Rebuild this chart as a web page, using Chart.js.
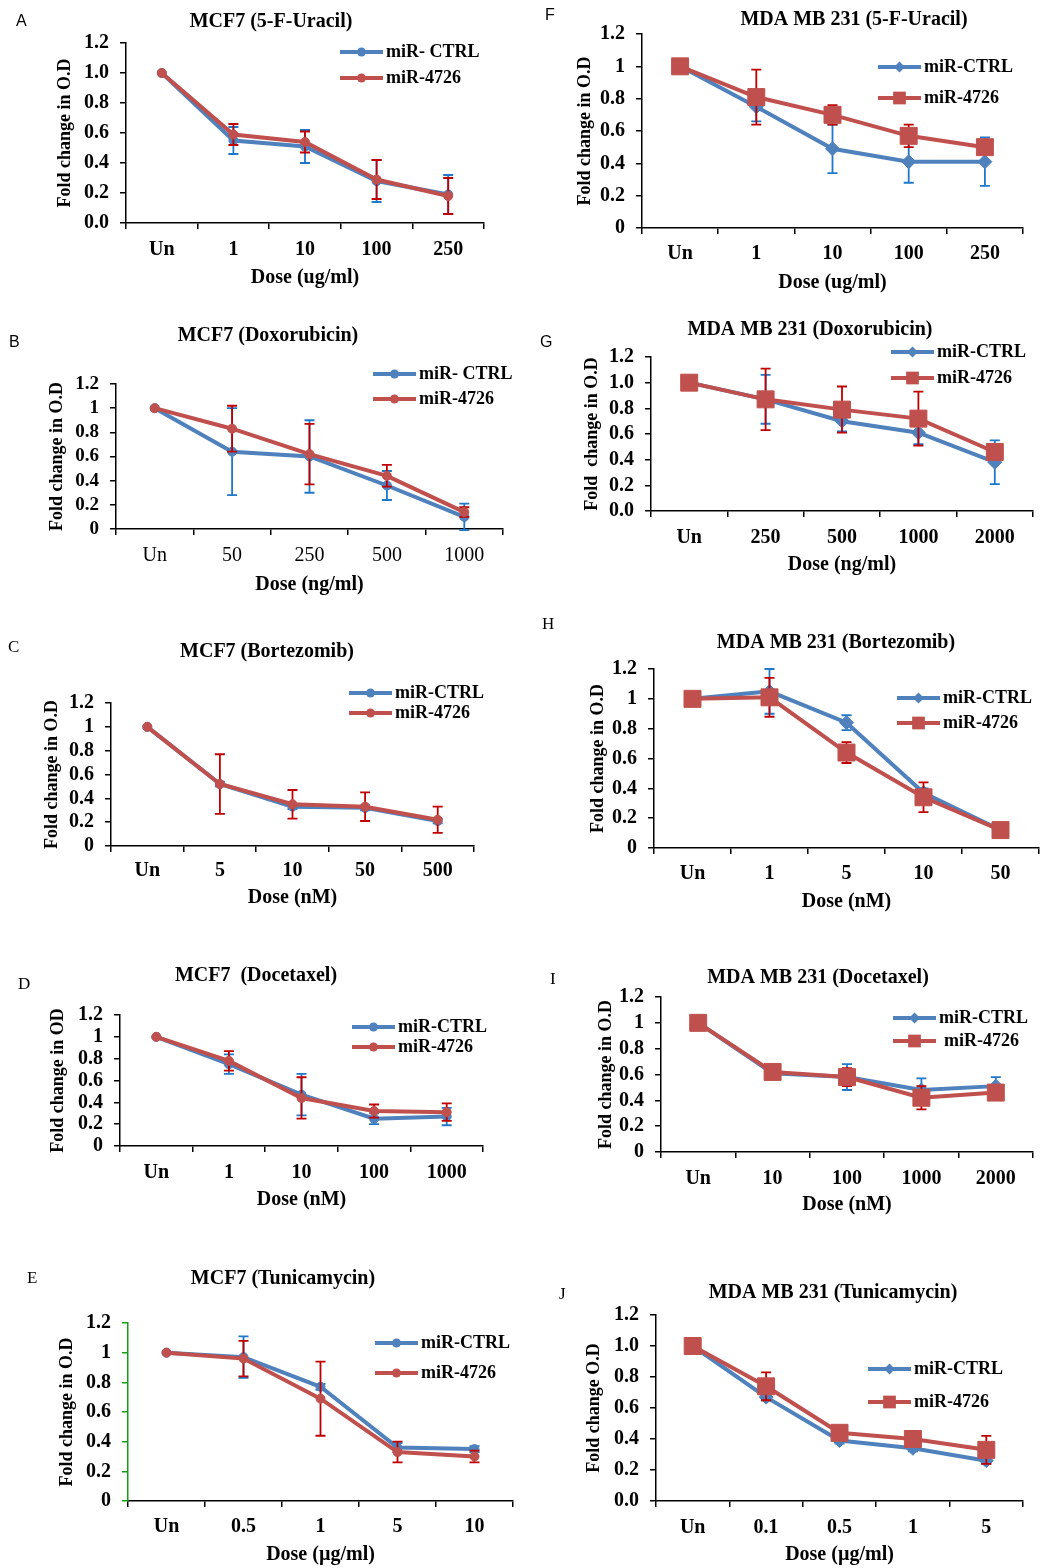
<!DOCTYPE html>
<html>
<head>
<meta charset="utf-8">
<script src="https://cdn.jsdelivr.net/npm/chart.js@4.4.1/dist/chart.umd.min.js"></script>
<style>
  body { margin: 0; background: #fff; width: 1052px; height: 1568px; position: relative; overflow: hidden; }
  canvas { position: absolute; }
</style>
</head>
<body>
<script>
// ---- data ----
// A  MCF7 5-FU
const doseA = ['Un', '1', '10', '100', '250'];
const ctrlA = [1.00, 0.55, 0.51, 0.28, 0.19];
const ctrlErrA = [0, 0.09, 0.11, 0.14, 0.13];
const mirA = [1.00, 0.59, 0.54, 0.29, 0.18];
const mirErrA = [0, 0.07, 0.07, 0.13, 0.12];
// F  MDA 5-FU
const doseF = ['Un', '1', '10', '100', '250'];
const ctrlF = [1.00, 0.75, 0.49, 0.41, 0.41];
const ctrlErrF = [0, 0.09, 0.15, 0.13, 0.15];
const mirF = [1.00, 0.81, 0.70, 0.57, 0.50];
const mirErrF = [0, 0.17, 0.06, 0.07, 0.03];
// B  MCF7 doxorubicin
const doseB = ['Un', '50', '250', '500', '1000'];
const ctrlB = [1.00, 0.64, 0.60, 0.36, 0.10];
const ctrlErrB = [0, 0.36, 0.30, 0.12, 0.11];
const mirB = [1.00, 0.83, 0.62, 0.44, 0.14];
const mirErrB = [0, 0.19, 0.25, 0.09, 0.04];
// G  MDA doxorubicin
const doseG = ['Un', '250', '500', '1000', '2000'];
const ctrlG = [1.00, 0.87, 0.70, 0.61, 0.38];
const ctrlErrG = [0, 0.19, 0.08, 0.09, 0.17];
const mirG = [1.00, 0.87, 0.79, 0.72, 0.46];
const mirErrG = [0, 0.24, 0.18, 0.21, 0.03];
// C  MCF7 bortezomib
const doseC = ['Un', '5', '10', '50', '500'];
const ctrlC = [1.00, 0.52, 0.33, 0.32, 0.21];
const ctrlErrC = [0, 0.02, 0.02, 0.02, 0.02];
const mirC = [1.00, 0.52, 0.35, 0.33, 0.22];
const mirErrC = [0, 0.25, 0.12, 0.12, 0.11];
// H  MDA bortezomib
const doseH = ['Un', '1', '5', '10', '50'];
const ctrlH = [1.00, 1.05, 0.84, 0.37, 0.12];
const ctrlErrH = [0, 0.15, 0.05, 0.03, 0.01];
const mirH = [1.00, 1.01, 0.64, 0.34, 0.12];
const mirErrH = [0, 0.13, 0.07, 0.10, 0.01];
// D  MCF7 docetaxel
const doseD = ['Un', '1', '10', '100', '1000'];
const ctrlD = [1.00, 0.75, 0.47, 0.25, 0.27];
const ctrlErrD = [0, 0.09, 0.19, 0.05, 0.08];
const mirD = [1.00, 0.78, 0.44, 0.32, 0.31];
const mirErrD = [0, 0.09, 0.19, 0.06, 0.08];
// I  MDA docetaxel
const doseI = ['Un', '10', '100', '1000', '2000'];
const ctrlI = [1.00, 0.61, 0.58, 0.48, 0.51];
const ctrlErrI = [0, 0.01, 0.10, 0.09, 0.07];
const mirI = [1.00, 0.62, 0.58, 0.42, 0.46];
const mirErrI = [0, 0.01, 0.07, 0.09, 0.02];
// E  MCF7 tunicamycin
const doseE = ['Un', '0.5', '1', '5', '10'];
const ctrlE = [1.00, 0.97, 0.77, 0.36, 0.35];
const ctrlErrE = [0, 0.14, 0.02, 0.03, 0.02];
const mirE = [1.00, 0.96, 0.69, 0.33, 0.30];
const mirErrE = [0, 0.12, 0.25, 0.07, 0.04];
// J  MDA tunicamycin
const doseJ = ['Un', '0.1', '0.5', '1', '5'];
const ctrlJ = [1.00, 0.67, 0.39, 0.34, 0.26];
const ctrlErrJ = [0, 0.02, 0.02, 0.02, 0.02];
const mirJ = [1.00, 0.74, 0.44, 0.40, 0.33];
const mirErrJ = [0, 0.09, 0.02, 0.02, 0.09];

const yTicks = [0, 0.2, 0.4, 0.6, 0.8, 1.0, 1.2];

const BLUE = '#4F81BD', RED = '#C0504D';
const BLUE_ERR = '#1F78CA', RED_ERR = '#C00000';
const SERIF = '"Liberation Serif", "Times New Roman", serif';

// error bars, drawn just before their own series so markers sit on top
const errorBars = {
  id: 'errorBars',
  beforeDatasetDraw(chart, args) {
    const ds = chart.data.datasets[args.index];
    if (!ds.errors) return;
    const y = chart.scales.y, ctx = chart.ctx;
    ctx.save();
    ctx.strokeStyle = ds.errorColor;
    ctx.lineWidth = 1.8;
    args.meta.data.forEach((pt, i) => {
      const e = ds.errors[i];
      if (!e) return;
      const v = ds.data[i];
      const top = y.getPixelForValue(v + e), bot = y.getPixelForValue(v - e);
      ctx.beginPath();
      ctx.moveTo(pt.x, top); ctx.lineTo(pt.x, bot);
      ctx.moveTo(pt.x - 5, top); ctx.lineTo(pt.x + 5, top);
      ctx.moveTo(pt.x - 5, bot); ctx.lineTo(pt.x + 5, bot);
      ctx.stroke();
    });
    ctx.restore();
  }
};

function marker(ctx, style, r, x, y) {
  ctx.beginPath();
  if (style === 'rect') {
    const s = r * Math.SQRT1_2;
    ctx.rect(x - s, y - s, 2 * s, 2 * s);
  } else if (style === 'rectRot') {
    ctx.moveTo(x, y - r); ctx.lineTo(x + r, y); ctx.lineTo(x, y + r); ctx.lineTo(x - r, y); ctx.closePath();
  } else {
    ctx.arc(x, y, r, 0, Math.PI * 2);
  }
  ctx.fill();
}

// title, panel letter and the excel-like legend
const decor = {
  id: 'decor',
  afterDraw(chart, args, o) {
    const ctx = chart.ctx;
    ctx.save();
    ctx.fillStyle = '#000';
    ctx.textBaseline = 'middle';
    ctx.textAlign = 'center';
    ctx.font = 'bold 20px ' + SERIF;
    ctx.fillText(o.title, o.titleX, o.titleY);
    ctx.textAlign = 'left';
    ctx.font = o.letterFont;
    ctx.fillText(o.letter, o.letterX, o.letterY);
    ctx.font = 'bold 18px ' + SERIF;
    chart.data.datasets.forEach((ds, i) => {
      const ly = o.legendY[i], lx = o.legendX;
      ctx.strokeStyle = ds.borderColor;
      ctx.lineWidth = 4;
      ctx.beginPath(); ctx.moveTo(lx, ly); ctx.lineTo(lx + 43, ly); ctx.stroke();
      ctx.fillStyle = ds.borderColor;
      marker(ctx, ds.pointStyle, o.legendMarker[i], lx + 21.5, ly);
      ctx.fillStyle = '#000';
      ctx.fillText(ds.label, lx + 46 + (o.textShift[i] || 0), ly);
    });
    ctx.restore();
  }
};

const fmt1 = v => (Math.round(v * 10) / 10).toFixed(1);
const fmtN = v => String(Math.round(v * 10) / 10);

// page layout of the ten panels (cell = canvas box, plot = axes box, all in page px)
const panels = [
  { letter: 'A', sans: true, title: 'MCF7 (5-F-Uracil)', dose: doseA, ctrl: ctrlA, ctrlErr: ctrlErrA, mir: mirA, mirErr: mirErrA,
    ctrlLabel: 'miR- CTRL', yTitle: 'Fold change in O.D', xTitle: 'Dose (ug/ml)', fmt: fmt1, square: false, yTickSize: 20,
    cell: {x: 0, y: 0, w: 520, h: 300}, plot: {l: 126, t: 43, r: 484, b: 223},
    titleX: 271, titleY: 22, yTitleX: 65, xTitleY: 278, tickY: 249, legX: 340, legY: [52, 78], letterX: 16, letterY: 22 },
  { letter: 'F', sans: true, title: 'MDA MB 231 (5-F-Uracil)', dose: doseF, ctrl: ctrlF, ctrlErr: ctrlErrF, mir: mirF, mirErr: mirErrF,
    ctrlLabel: 'miR-CTRL', yTitle: 'Fold change in O.D', xTitle: 'Dose (ug/ml)', fmt: fmtN, square: true, yTickSize: 20,
    cell: {x: 520, y: 0, w: 532, h: 300}, plot: {l: 642, t: 34, r: 1023, b: 228},
    titleX: 854, titleY: 20, yTitleX: 585, xTitleY: 283, tickY: 253, legX: 878, legY: [67, 98], letterX: 545, letterY: 16 },
  { letter: 'B', sans: true, title: 'MCF7 (Doxorubicin)', dose: doseB, ctrl: ctrlB, ctrlErr: ctrlErrB, mir: mirB, mirErr: mirErrB,
    ctrlLabel: 'miR- CTRL', yTitle: 'Fold change in O.D', xTitle: 'Dose (ng/ml)', fmt: fmtN, square: false, lightX: true, yTickSize: 19,
    cell: {x: 0, y: 300, w: 520, h: 315}, plot: {l: 116, t: 384, r: 503, b: 529},
    titleX: 268, titleY: 336, yTitleX: 57, xTitleY: 585, tickY: 555, legX: 373, legY: [374, 399], letterX: 9, letterY: 343 },
  { letter: 'G', sans: true, title: 'MDA MB 231 (Doxorubicin)', dose: doseG, ctrl: ctrlG, ctrlErr: ctrlErrG, mir: mirG, mirErr: mirErrG,
    ctrlLabel: 'miR-CTRL', yTitle: 'Fold  change in O.D', xTitle: 'Dose (ng/ml)', fmt: fmt1, square: true, yTickSize: 20,
    cell: {x: 520, y: 300, w: 532, h: 315}, plot: {l: 651, t: 357, r: 1033, b: 511},
    titleX: 810, titleY: 330, yTitleX: 592, xTitleY: 565, tickY: 537, legX: 891, legY: [352, 378], letterX: 540, letterY: 343 },
  { letter: 'C', sans: false, title: 'MCF7 (Bortezomib)', dose: doseC, ctrl: ctrlC, ctrlErr: ctrlErrC, mir: mirC, mirErr: mirErrC,
    ctrlLabel: 'miR-CTRL', yTitle: 'Fold change in O.D', xTitle: 'Dose (nM)', fmt: fmtN, square: false, yTickSize: 20,
    cell: {x: 0, y: 615, w: 520, h: 335}, plot: {l: 111, t: 703, r: 474, b: 846},
    titleX: 267, titleY: 652, yTitleX: 52, xTitleY: 898, tickY: 870, legX: 349, legY: [693, 713], letterX: 8, letterY: 648 },
  { letter: 'H', sans: false, title: 'MDA MB 231 (Bortezomib)', dose: doseH, ctrl: ctrlH, ctrlErr: ctrlErrH, mir: mirH, mirErr: mirErrH,
    ctrlLabel: 'miR-CTRL', yTitle: 'Fold change in O.D', xTitle: 'Dose (nM)', fmt: fmtN, square: true, yTickSize: 20,
    cell: {x: 520, y: 615, w: 532, h: 335}, plot: {l: 654, t: 669, r: 1051, b: 848},
    titleX: 836, titleY: 643, yTitleX: 598, xTitleY: 902, tickY: 873, legX: 897, legY: [698, 723], letterX: 542, letterY: 625 },
  { letter: 'D', sans: false, title: 'MCF7  (Docetaxel)', dose: doseD, ctrl: ctrlD, ctrlErr: ctrlErrD, mir: mirD, mirErr: mirErrD,
    ctrlLabel: 'miR-CTRL', yTitle: 'Fold change in OD', xTitle: 'Dose (nM)', fmt: fmtN, square: false, yTickSize: 20,
    cell: {x: 0, y: 950, w: 520, h: 295}, plot: {l: 120, t: 1015, r: 483, b: 1146},
    titleX: 256, titleY: 976, yTitleX: 58, xTitleY: 1200, tickY: 1172, legX: 352, legY: [1027, 1047], letterX: 18, letterY: 985 },
  { letter: 'I', sans: false, title: 'MDA MB 231 (Docetaxel)', dose: doseI, ctrl: ctrlI, ctrlErr: ctrlErrI, mir: mirI, mirErr: mirErrI,
    ctrlLabel: 'miR-CTRL', yTitle: 'Fold change in O.D', xTitle: 'Dose (nM)', fmt: fmtN, square: true, yTickSize: 20,
    cell: {x: 520, y: 950, w: 532, h: 295}, plot: {l: 661, t: 997, r: 1033, b: 1152},
    titleX: 818, titleY: 978, yTitleX: 606, xTitleY: 1205, tickY: 1178, legX: 893, legY: [1018, 1041], letterX: 550, letterY: 980, textShift: [0, 5] },
  { letter: 'E', sans: false, title: 'MCF7 (Tunicamycin)', dose: doseE, ctrl: ctrlE, ctrlErr: ctrlErrE, mir: mirE, mirErr: mirErrE,
    ctrlLabel: 'miR-CTRL', yTitle: 'Fold change in O.D', xTitle: 'Dose (\u00b5g/ml)', fmt: fmtN, square: false, greenY: true, yTickSize: 20,
    cell: {x: 0, y: 1245, w: 520, h: 323}, plot: {l: 128, t: 1323, r: 513, b: 1501},
    titleX: 283, titleY: 1279, yTitleX: 67, xTitleY: 1555, tickY: 1526, legX: 375, legY: [1343, 1373], letterX: 27, letterY: 1279 },
  { letter: 'J', sans: false, title: 'MDA MB 231 (Tunicamycin)', dose: doseJ, ctrl: ctrlJ, ctrlErr: ctrlErrJ, mir: mirJ, mirErr: mirErrJ,
    ctrlLabel: 'miR-CTRL', yTitle: 'Fold change O.D', xTitle: 'Dose (\u00b5g/ml)', fmt: fmt1, square: true, yTickSize: 20,
    cell: {x: 520, y: 1245, w: 532, h: 323}, plot: {l: 656, t: 1315, r: 1023, b: 1501},
    titleX: 833, titleY: 1293, yTitleX: 594, xTitleY: 1555, tickY: 1527, legX: 868, legY: [1369, 1402], letterX: 559, letterY: 1295 }
];

function makePanel(p) {
  const c = document.createElement('canvas');
  c.width = p.cell.w; c.height = p.cell.h;
  c.style.left = p.cell.x + 'px'; c.style.top = p.cell.y + 'px';
  document.body.appendChild(c);

  const ySize = 18, xSize = 20;
  const yScaleLeft = p.yTitleX - ySize * 0.6;
  const yW = p.plot.l - yScaleLeft;
  const xH = p.xTitleY + xSize * 0.6 - p.plot.b;
  const pad = {
    left: yScaleLeft - p.cell.x,
    top: p.plot.t - p.cell.y,
    right: p.cell.x + p.cell.w - p.plot.r,
    bottom: Math.max(0, p.cell.y + p.cell.h - p.plot.b - xH)
  };
  const axisColor = p.greenY ? '#12A012' : '#000';
  const ox = p.cell.x, oy = p.cell.y;

  new Chart(c, {
    type: 'line',
    data: {
      labels: p.dose,
      datasets: [
        { label: p.ctrlLabel, data: p.ctrl, errors: p.ctrlErr, errorColor: BLUE_ERR,
          borderColor: BLUE, backgroundColor: BLUE, borderWidth: 4, order: 1,
          pointStyle: p.square ? 'rectRot' : 'circle', pointRadius: p.square ? 7 : 4.5,
          pointBorderWidth: 1, pointBackgroundColor: BLUE, pointBorderColor: BLUE },
        { label: 'miR-4726', data: p.mir, errors: p.mirErr, errorColor: RED_ERR,
          borderColor: RED, backgroundColor: RED, borderWidth: 4, order: 0,
          pointStyle: p.square ? 'rect' : 'circle', pointRadius: p.square ? 12 : 4.5,
          pointBorderWidth: 1, pointBackgroundColor: RED, pointBorderColor: RED }
      ]
    },
    options: {
      responsive: false,
      animation: false,
      devicePixelRatio: 1,
      clip: false,
      layout: { padding: pad },
      plugins: {
        legend: { display: false },
        title: { display: false },
        tooltip: { enabled: false },
        decor: {
          title: p.title, titleX: p.titleX - ox, titleY: p.titleY - oy,
          letter: p.letter, letterX: p.letterX - ox, letterY: p.letterY - oy,
          letterFont: p.sans ? '16px "Liberation Sans", Arial, sans-serif' : '17px ' + SERIF,
          legendX: p.legX - ox, legendY: p.legY.map(v => v - oy),
          legendMarker: p.square ? [5.5, 9] : [4.5, 4.5], textShift: p.textShift || [0, 0]
        }
      },
      scales: {
        x: {
          offset: true,
          afterFit: s => { s.height = xH; },
          grid: { offset: true, drawOnChartArea: false, drawTicks: true, tickLength: 6, color: '#000', lineWidth: 1.5 },
          border: { display: true, color: '#000', width: 1.5 },
          ticks: { color: '#000', autoSkip: false, maxRotation: 0, padding: p.tickY - p.plot.b - 6 - 11,
                   font: { family: SERIF, size: 20, weight: p.lightX ? 'normal' : 'bold' } },
          title: { display: true, text: p.xTitle, color: '#000', padding: 0,
                   font: { family: SERIF, size: xSize, weight: 'bold', lineHeight: 1.2 } }
        },
        y: {
          min: 0, max: 1.2,
          afterFit: s => { s.width = yW; },
          afterBuildTicks: s => { s.ticks = yTicks.map(v => ({ value: v })); },
          grid: { drawOnChartArea: false, drawTicks: true, tickLength: 6, color: axisColor, lineWidth: 1.5 },
          border: { display: true, color: axisColor, width: 1.5 },
          ticks: { color: '#000', padding: 11, autoSkip: false, callback: v => p.fmt(v),
                   font: { family: SERIF, size: p.yTickSize, weight: 'bold', lineHeight: 1 } },
          title: { display: true, text: p.yTitle, color: '#000', padding: 0,
                   font: { family: SERIF, size: ySize, weight: 'bold', lineHeight: 1.2 } }
        }
      }
    },
    plugins: [errorBars, decor]
  });
}

panels.forEach(makePanel);
</script>
</body>
</html>
